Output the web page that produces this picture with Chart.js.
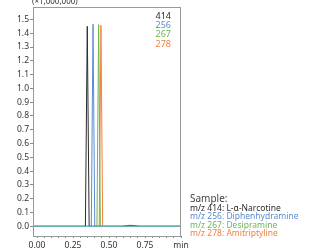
<!DOCTYPE html>
<html>
<head>
<meta charset="utf-8">
<script src="https://cdn.jsdelivr.net/npm/chart.js@4.4.1/dist/chart.umd.min.js"></script>
<style>
  html, body { margin: 0; padding: 0; background: #fff; }
  #wrap { width: 310px; height: 250px; }
</style>
</head>
<body>
<div id="wrap"><canvas id="graph" width="310" height="250"></canvas></div>
<script>
// datos del cromatograma (min, x1,000,000)
const t414 = [-0.03, 0.30, 0.336, 0.349, 0.362, 0.40, 0.60, 0.65, 0.70, 1.0];
const v414 = [0, 0, 0, 1.45, 0, 0, 0, 0.004, 0, 0];
const t256 = [-0.03, 0.30, 0.377, 0.389, 0.401, 0.45, 0.60, 0.65, 0.70, 1.0];
const v256 = [0, 0, 0, 1.465, 0, 0, 0, 0.003, 0, 0];
const t267 = [-0.03, 0.30, 0.416, 0.428, 0.440, 0.50, 0.58, 0.65, 0.72, 1.0];
const v267 = [0, 0, 0, 1.462, 0, 0, 0, 0.008, 0, 0];
const t278 = [-0.03, 0.30, 0.432, 0.444, 0.456, 0.50, 0.60, 0.65, 0.70, 1.0];
const v278 = [0, 0, 0, 1.457, 0, 0, 0, 0.003, 0, 0];
const tBase = [-0.03, 1.0];
const vBase = [0, 0];

const series = ['414', '256', '267', '278'];
const nombres = ['L-\u03b1-Narcotine', 'Diphenhydramine', 'Desipramine', 'Amitriptyline'];
const colors = ['#2b2b2b', '#5b8bd2', '#6cb654', '#f47f3a'];

const yTicks = [0.0, 0.1, 0.2, 0.3, 0.4, 0.5, 0.6, 0.7, 0.8, 0.9, 1.0, 1.1, 1.2, 1.3, 1.4, 1.5];
const xTicks = [0.00, 0.05, 0.10, 0.15, 0.20, 0.25, 0.30, 0.35, 0.40, 0.45, 0.50,
                0.55, 0.60, 0.65, 0.70, 0.75, 0.80, 0.85, 0.90, 0.95, 1.00];
const xLabels = [0.00, 0.25, 0.50, 0.75];

const puntos = (ts, vs) => ts.map((t, i) => ({ x: t, y: vs[i] }));
const fuente = '"Noto Sans", "DejaVu Sans", sans-serif';

const textos = {
    id: 'textos',
    afterDraw: (chart) => {
        const ctx = chart.ctx;
        const a = chart.chartArea;
        ctx.save();
        // marco
        ctx.strokeStyle = '#999';
        ctx.lineWidth = 1;
        ctx.strokeRect(Math.round(a.left) + 0.5, Math.round(a.top) + 0.5,
            Math.round(a.right - a.left) - 1, Math.round(a.bottom - a.top));
        // unidad
        ctx.fillStyle = '#333';
        ctx.font = '8px ' + fuente;
        ctx.textAlign = 'left';
        ctx.textBaseline = 'middle';
        ctx.fillText('(\u00d71,000,000)', 32, 2);
        // leyenda interna
        ctx.font = '9px ' + fuente;
        ctx.textAlign = 'right';
        series.forEach((s, i) => {
            ctx.fillStyle = colors[i];
            ctx.fillText(s, 171, 16 + i * 9.4);
        });
        // muestra
        ctx.textAlign = 'left';
        ctx.fillStyle = '#444';
        ctx.font = '10px ' + fuente;
        ctx.fillText('Sample:', 190, 199);
        ctx.font = '8.5px ' + fuente;
        series.forEach((s, i) => {
            ctx.fillStyle = colors[i];
            ctx.fillText('m/z ' + s + ': ' + nombres[i], 190, 208.5 + i * 8.4);
        });
        ctx.restore();
    }
};

const datasets = [{
    label: 'base',
    data: puntos(tBase, vBase),
    borderColor: '#72c4c4',
    borderWidth: 1
}];
const ts = [t414, t256, t267, t278];
const vs = [v414, v256, v267, v278];
series.forEach((s, i) => {
    datasets.push({
        label: s,
        data: puntos(ts[i], vs[i]),
        borderColor: colors[i],
        borderWidth: 1
    });
});

new Chart(document.querySelector('#graph'), {
    type: 'line',
    data: { datasets },
    options: {
        responsive: false,
        animation: false,
        events: [],
        layout: { padding: { left: 0, right: 129, top: 7, bottom: 0 } },
        elements: { point: { radius: 0 }, line: { tension: 0 } },
        plugins: { legend: { display: false }, tooltip: { enabled: false } },
        scales: {
            x: {
                type: 'linear',
                min: -0.028,
                max: 1.0,
                afterBuildTicks: (scale) => { scale.ticks = xTicks.map(v => ({ value: v })); },
                afterFit: (scale) => { scale.height = 14; },
                border: { color: '#888' },
                grid: { drawOnChartArea: false, drawTicks: true, tickLength: 2, color: '#888' },
                ticks: {
                    autoSkip: false,
                    maxRotation: 0,
                    padding: 2,
                    color: '#333',
                    font: { size: 8.5, family: fuente },
                    callback: (v) => {
                        if (Math.abs(v - 1) < 1e-6) return 'min';
                        const l = xLabels.find(x => Math.abs(x - v) < 1e-6);
                        return l === undefined ? '' : l.toFixed(2);
                    }
                }
            },
            y: {
                min: -0.07,
                max: 1.59,
                afterBuildTicks: (scale) => { scale.ticks = yTicks.map(v => ({ value: v })); },
                afterFit: (scale) => { scale.width = 33; },
                border: { color: '#888' },
                grid: { drawOnChartArea: false, drawTicks: true, tickLength: 3, color: '#888' },
                ticks: {
                    padding: 1,
                    color: '#333',
                    font: { size: 8.5, family: fuente },
                    callback: (v) => v.toFixed(1)
                }
            }
        }
    },
    plugins: [textos]
});
</script>
</body>
</html>
